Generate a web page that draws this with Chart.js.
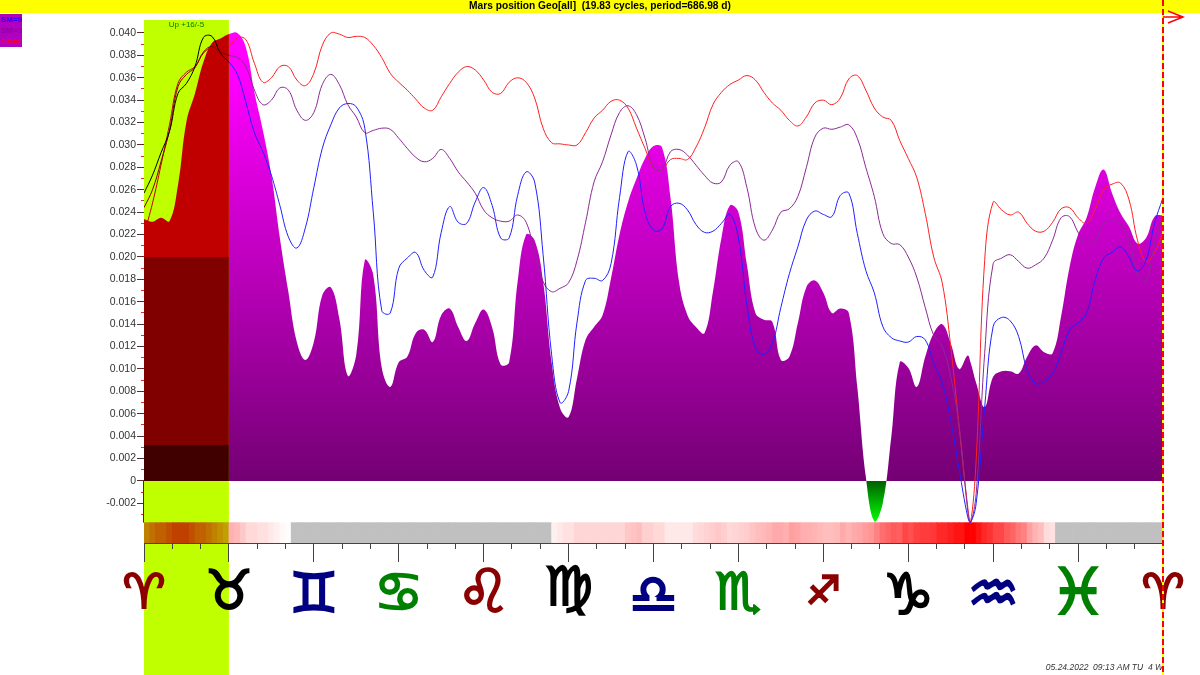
<!DOCTYPE html>
<html>
<head>
<meta charset="utf-8">
<title>Mars position Geo</title>
<script src="https://cdn.jsdelivr.net/npm/chart.js@4"></script>
<style>
  html, body { margin: 0; padding: 0; background: #fff; }
  canvas { display: block; }
</style>
</head>
<body>
<canvas id="myChart" width="1200" height="675"></canvas>
<script>
const TITLE = 'Mars position Geo[all]  (19.83 cycles, period=686.98 d)';
const FOOTER = '05.24.2022  09:13 AM TU  4 W';
const BAND_LABEL = 'Up +16/-5';
const BAND_RANGE = [0, 30];
const SM_LABELS = ['SM=9', 'SM=5', 'SM=2'];

const SIGNS = ['♈', '♉', '♊', '♋', '♌', '♍', '♎', '♏', '♐', '♑', '♒', '♓', '♈'];
const SIGN_COLORS = ['#8b0000', '#000000', '#000080', '#008000', '#8b0000', '#000000', '#000080', '#008000', '#8b0000', '#000000', '#000080', '#008000', '#8b0000'];
const SIGN_SIZES = [48, 54, 55, 55, 60, 54, 54, 51, 39, 57, 58, 64, 48];
// line height moves each glyph up or down under its tick
const SIGN_LINES = [58.4, 60, 54.8, 57.8, 58, 67.8, 52.8, 59, 63.6, 51.2, 54.2, 55.4, 58.4];
const SIGN_TICKS = [0, 30, 60, 90, 120, 150, 180, 210, 240, 270, 300, 330, 360];
const MINOR_X_TICKS = [10, 20, 40, 50, 70, 80, 100, 110, 130, 140, 160, 170, 190, 200, 220, 230, 250, 260, 280, 290, 310, 320, 340, 350];

const Y_MIN = -0.00554;
const Y_MAX = 0.04116;
const Y_TICKS = [-0.002, 0, 0.002, 0.004, 0.006, 0.008, 0.01, 0.012, 0.014, 0.016, 0.018, 0.02, 0.022, 0.024, 0.026, 0.028, 0.03, 0.032, 0.034, 0.036, 0.038, 0.04];
const MINOR_Y_TICKS = [-0.003, -0.001, 0.001, 0.003, 0.005, 0.007, 0.009, 0.011, 0.013, 0.015, 0.017, 0.019, 0.021, 0.023, 0.025, 0.027, 0.029, 0.031, 0.033, 0.035, 0.037, 0.039];

const DEGREES = [
  0, 3, 6, 9, 12, 15, 18, 21, 24, 27,
  30, 33, 36, 39, 42, 45, 48, 51, 54, 57,
  60, 63, 66, 69, 72, 75, 78, 81, 84, 87,
  90, 93, 96, 99, 102, 105, 108, 111, 114, 117,
  120, 123, 126, 129, 132, 135, 138, 141, 144, 147,
  150, 153, 156, 159, 162, 165, 168, 171, 174, 177,
  180, 183, 186, 189, 192, 195, 198, 201, 204, 207,
  210, 213, 216, 219, 222, 225, 228, 231, 234, 237,
  240, 243, 246, 249, 252, 255, 258, 261, 264, 267,
  270, 273, 276, 279, 282, 285, 288, 291, 292, 294,
  297, 300, 303, 306, 309, 312, 315, 318, 321, 324,
  327, 330, 333, 336, 339, 342, 345, 348, 351, 354, 357, 360
];

const AREA = [
  0.0234, 0.02315, 0.0235, 0.0232, 0.0264, 0.0321, 0.0346, 0.0374, 0.0391, 0.0395,
  0.0399, 0.04, 0.0387, 0.0347, 0.0313, 0.0273, 0.0217, 0.0169, 0.0124, 0.0108,
  0.0124, 0.0166, 0.0173, 0.0145, 0.0094, 0.0113, 0.0197, 0.0184, 0.0101, 0.0084,
  0.0106, 0.0111, 0.0132, 0.0135, 0.0124, 0.0148, 0.0154, 0.01375, 0.0125, 0.0141,
  0.0153, 0.0137, 0.0104, 0.0106, 0.0178, 0.022, 0.0215, 0.0178, 0.0106, 0.0065,
  0.0057, 0.0092, 0.0126, 0.01375, 0.0148, 0.0181, 0.022, 0.0249, 0.027, 0.0288,
  0.0299, 0.0298, 0.0253, 0.0178, 0.0148, 0.01375, 0.0132, 0.0169, 0.0217, 0.0246,
  0.024, 0.0193, 0.015, 0.0144, 0.0142, 0.0108, 0.0111, 0.0141, 0.0173, 0.0179,
  0.0168, 0.015, 0.0154, 0.015, 0.0084, 0.0004, -0.0036, -0.002, 0.0039, 0.0106,
  0.0101, 0.0084, 0.0111, 0.0132, 0.014, 0.0123, 0.01, 0.0112, 0.0106, 0.00875,
  0.0066, 0.0093, 0.0098, 0.0098, 0.0096, 0.0111, 0.0121, 0.0115, 0.0114, 0.0147,
  0.0191, 0.022, 0.0235, 0.0262, 0.0278, 0.0257, 0.0239, 0.0227, 0.0212, 0.0217, 0.0236, 0.02375
];

const SM9 = [
  0.0257, 0.0273, 0.0293, 0.0312, 0.0346, 0.0355, 0.037, 0.0396, 0.0397, 0.0382,
  0.0374, 0.0363, 0.0338, 0.0311, 0.0294, 0.0273, 0.0246, 0.0218, 0.0208, 0.0226,
  0.0262, 0.0297, 0.0318, 0.0333, 0.0337, 0.0334, 0.0315, 0.024, 0.0152, 0.015,
  0.019, 0.0199, 0.0204, 0.0188, 0.0182, 0.0222, 0.0245, 0.0231, 0.023, 0.0249,
  0.0262, 0.0246, 0.0217, 0.0217, 0.0255, 0.0276, 0.0267, 0.0202, 0.0113, 0.007,
  0.008, 0.0142, 0.0179, 0.0181, 0.0179, 0.0194, 0.0253, 0.0294, 0.0282, 0.024,
  0.0224, 0.0225, 0.0245, 0.0248, 0.0242, 0.0229, 0.0222, 0.0223, 0.023, 0.0238,
  0.0217, 0.0157, 0.0119, 0.0113, 0.0123, 0.0155, 0.0185, 0.0209, 0.0233, 0.0241,
  0.0238, 0.0236, 0.0255, 0.0257, 0.0221, 0.0188, 0.0168, 0.0138, 0.0128, 0.0125,
  0.0124, 0.0129, 0.0126, 0.0105, 0.00875, 0.0054, 0.001, -0.0032, -0.0037, -0.002,
  0.0066, 0.0138, 0.0146, 0.0143, 0.0129, 0.0099, 0.0087, 0.00885, 0.0096, 0.0114,
  0.0135, 0.0141, 0.015, 0.0179, 0.0199, 0.0204, 0.0209, 0.02, 0.01875, 0.0197, 0.023, 0.0253
];

const SM5 = [
  0.0244, 0.026, 0.0285, 0.0313, 0.0352, 0.0363, 0.0369, 0.0383, 0.0388, 0.0383,
  0.038, 0.0378, 0.037, 0.0349, 0.0336, 0.034, 0.0351, 0.0349, 0.0331, 0.0322,
  0.0329, 0.0354, 0.0363, 0.0354, 0.0336, 0.0325, 0.0311, 0.0313, 0.0315, 0.0314,
  0.0306, 0.0297, 0.0289, 0.0285, 0.0288, 0.0296, 0.0288, 0.0276, 0.0267, 0.0257,
  0.0242, 0.0235, 0.0232, 0.0232, 0.02375, 0.0231, 0.0204, 0.0178, 0.0169, 0.0172,
  0.0177, 0.0197, 0.0231, 0.0267, 0.0285, 0.0309, 0.0329, 0.0335, 0.0327, 0.0306,
  0.028, 0.0278, 0.0294, 0.0296, 0.0291, 0.0282, 0.0273, 0.0266, 0.0267, 0.0282,
  0.0285, 0.0262, 0.0226, 0.0215, 0.0224, 0.024, 0.0243, 0.0254, 0.028, 0.0307,
  0.0315, 0.0314, 0.0316, 0.0318, 0.0306, 0.028, 0.0254, 0.0221, 0.0212, 0.0211,
  0.02, 0.0182, 0.0155, 0.013, 0.012, 0.0093, 0.0048, -0.0026, -0.0037, -0.0011,
  0.0114, 0.0194, 0.0199, 0.0202, 0.0196, 0.019, 0.0193, 0.0199, 0.0215, 0.0235,
  0.0236, 0.0222, 0.0212, 0.0215, 0.023, 0.0232, 0.0229, 0.0215, 0.0184, 0.0178, 0.0212, 0.02375
];

const SM2 = [
  0.022, 0.0248, 0.0282, 0.0318, 0.0355, 0.0365, 0.037, 0.0382, 0.0387, 0.0385,
  0.0388, 0.0396, 0.0394, 0.0373, 0.0356, 0.036, 0.037, 0.037, 0.0358, 0.0353,
  0.0364, 0.0389, 0.04, 0.0399, 0.0396, 0.0397, 0.0396, 0.0389, 0.0378, 0.0364,
  0.0356, 0.0349, 0.0341, 0.0333, 0.0331, 0.0343, 0.0355, 0.0365, 0.037, 0.0367,
  0.0358, 0.0347, 0.0346, 0.0356, 0.036, 0.0356, 0.0342, 0.0315, 0.0302, 0.0301,
  0.03, 0.03, 0.0311, 0.0324, 0.0331, 0.0339, 0.034, 0.0333, 0.0315, 0.0297,
  0.028, 0.0278, 0.0287, 0.0288, 0.0287, 0.0298, 0.0315, 0.0336, 0.0347, 0.0354,
  0.0358, 0.0362, 0.0358, 0.0347, 0.03375, 0.0331, 0.0322, 0.0317, 0.0325, 0.03375,
  0.034, 0.0336, 0.0342, 0.0359, 0.0362, 0.0349, 0.0333, 0.0325, 0.0322, 0.0304,
  0.0288, 0.0271, 0.0239, 0.02, 0.0177, 0.012, 0.0048, -0.0023, -0.0037, 0.0019,
  0.0197, 0.0249, 0.0242, 0.02375, 0.024, 0.023, 0.0223, 0.0223, 0.0231, 0.0243,
  0.0244, 0.0235, 0.023, 0.0242, 0.026, 0.0265, 0.0266, 0.0251, 0.0215, 0.0196, 0.0204, 0.0222
];

// one cell per 2 degrees, green/blue level of the cell, null = grey
const STRIP_LEVELS = [
  128, 112, 96, 96, 80, 64, 64, 64, 80, 96, 96, 112, 128, 144, 160,
  176, 184, 200, 216, 216, 224, 224, 232, 240, 248, 252,
  null, null, null, null, null, null, null, null, null, null, null, null, null, null, null, null,
  null, null, null, null, null, null, null, null, null, null, null, null, null, null, null, null,
  null, null, null, null, null, null, null, null, null, null, null, null, null, null,
  240, 232, 225, 225, 214, 214, 214, 214, 214, 214, 214, 214, 214, 200, 195, 190, 208, 208, 216, 216,
  232, 232, 232, 232, 232, 220, 215, 210, 205, 200, 205, 216, 212, 208, 205, 196, 190, 185, 180, 170,
  170, 175, 160, 165, 175, 175, 180, 185, 190, 190, 185,
  170, 180, 170, 165, 155, 150, 130, 110, 100, 90, 95, 70, 80, 65, 60, 60, 55, 40, 40, 30, 20, 20, 0, 0,
  20, 40, 50, 70, 70, 90, 100, 120, 130, 160, 180, 190, 220, 225,
  null, null, null, null, null, null, null, null, null, null, null, null, null, null, null, null, null, null, null
];
const STRIP_RANGE = [-0.00554, -0.00372];

let areaGradient = null;
let bandGradient = null;

function stop(grad, scale, value, color) {
  const top = scale.getPixelForValue(Y_MAX);
  const bottom = scale.getPixelForValue(Y_MIN);
  const pos = (scale.getPixelForValue(value) - top) / (bottom - top);
  grad.addColorStop(Math.min(1, Math.max(0, pos)), color);
}

function areaFill(chart) {
  if (areaGradient) return areaGradient;
  const y = chart.scales.y;
  const g = chart.ctx.createLinearGradient(0, y.getPixelForValue(Y_MAX), 0, y.getPixelForValue(Y_MIN));
  stop(g, y, Y_MAX, '#ff00ff');
  stop(g, y, 0.0365, '#ff00ff');
  stop(g, y, 0, '#740074');
  stop(g, y, 0, '#006000');
  stop(g, y, -0.0037, '#00ff00');
  areaGradient = g;
  return g;
}

// same picture seen through the yellow-green band
function bandFill(chart) {
  if (bandGradient) return bandGradient;
  const y = chart.scales.y;
  const g = chart.ctx.createLinearGradient(0, y.getPixelForValue(Y_MAX), 0, y.getPixelForValue(Y_MIN));
  stop(g, y, 0.02, '#c00000');
  stop(g, y, 0.02, '#800000');
  stop(g, y, 0.0032, '#800000');
  stop(g, y, 0.0032, '#400000');
  bandGradient = g;
  return g;
}

function inBand(ctx) {
  return ctx.p0.parsed.x < BAND_RANGE[1];
}

function lineSet(label, values, color, bandColor) {
  return {
    type: 'line',
    label: label,
    data: DEGREES.map((d, i) => ({ x: d, y: values[i] })),
    borderColor: color,
    borderWidth: 1,
    pointRadius: 0,
    tension: 0.4,
    fill: false,
    order: 1,
    segment: {
      borderColor: ctx => inBand(ctx) ? bandColor : color
    }
  };
}

const pagePlugin = {
  id: 'page',
  beforeDraw(chart) {
    const c = chart.ctx;
    const x = chart.scales.x;
    c.save();
    c.fillStyle = '#ffff00';
    c.fillRect(0, 0, chart.width, 13);
    c.fillStyle = '#c0ff00';
    const x0 = x.getPixelForValue(BAND_RANGE[0]);
    const x1 = x.getPixelForValue(BAND_RANGE[1]);
    c.fillRect(x0, chart.chartArea.top, x1 - x0, chart.height - chart.chartArea.top);
    c.restore();
  },
  afterDraw(chart) {
    const c = chart.ctx;
    const x = chart.scales.x;
    const y = chart.scales.y;
    const end = x.getPixelForValue(360);
    c.save();

    // axis line only shows under the zero level
    c.strokeStyle = '#333333';
    c.lineWidth = 1;
    c.beginPath();
    c.moveTo(x.left - 0.5, y.getPixelForValue(0));
    c.lineTo(x.left - 0.5, y.getPixelForValue(STRIP_RANGE[1]));
    c.stroke();

    // small text
    c.textBaseline = 'middle';
    c.textAlign = 'center';
    c.fillStyle = '#008000';
    c.font = '8px "Liberation Sans"';
    c.fillText(BAND_LABEL, x.getPixelForValue(15), 25);

    c.textAlign = 'right';
    c.fillStyle = '#333333';
    c.font = 'italic 8.5px "Liberation Sans"';
    c.fillText(FOOTER, end, 668);

    // SM key, top left
    c.fillStyle = '#b000c0';
    c.fillRect(0, 14, 22, 33);
    c.textAlign = 'left';
    c.font = 'bold 8px "Liberation Sans"';
    ['#2000ff', '#9000a0', '#ff0020'].forEach((col, i) => {
      c.fillStyle = col;
      c.fillText(SM_LABELS[i], 1, 20 + i * 11);
    });

    // end marker
    c.strokeStyle = '#ffff00';
    c.lineWidth = 2;
    c.beginPath();
    c.moveTo(end, 0);
    c.lineTo(end, chart.height);
    c.stroke();
    c.strokeStyle = '#ff0000';
    c.setLineDash([6, 3]);
    c.beginPath();
    c.moveTo(end, 0);
    c.lineTo(end, chart.height);
    c.stroke();
    c.setLineDash([]);

    c.lineWidth = 1.5;
    c.beginPath();
    c.moveTo(end, 17);
    c.lineTo(end + 20, 17);
    c.moveTo(end + 5, 11);
    c.lineTo(end + 20, 17);
    c.lineTo(end + 5, 23);
    c.stroke();
    c.restore();
  }
};

new Chart(document.getElementById('myChart'), {
  data: {
    datasets: [
      {
        type: 'bar',
        label: 'strip',
        data: STRIP_LEVELS.map((v, i) => ({ x: i * 2 + 1, y: STRIP_RANGE })),
        backgroundColor: ctx => {
          const v = STRIP_LEVELS[ctx.dataIndex];
          if (v === null) return '#c0c0c0';
          if (ctx.dataIndex * 2 < BAND_RANGE[1]) return 'rgb(192,' + v + ',0)';
          return 'rgb(255,' + v + ',' + v + ')';
        },
        barPercentage: 1,
        categoryPercentage: 1,
        borderWidth: 0,
        order: 3
      },
      {
        type: 'line',
        label: 'area',
        data: DEGREES.map((d, i) => ({ x: d, y: AREA[i] })),
        borderWidth: 0,
        pointRadius: 0,
        tension: 0.4,
        fill: 'origin',
        order: 2,
        segment: {
          backgroundColor: ctx => inBand(ctx) ? bandFill(ctx.chart) : areaFill(ctx.chart)
        }
      },
      lineSet(SM_LABELS[0], SM9, '#2020ff', '#000000'),
      lineSet(SM_LABELS[1], SM5, '#8a2a94', '#800000'),
      lineSet(SM_LABELS[2], SM2, '#ff2020', '#c00000')
    ]
  },
  plugins: [pagePlugin],
  options: {
    responsive: false,
    animation: false,
    layout: { padding: 0 },
    plugins: {
      legend: { display: false },
      tooltip: { enabled: false },
      title: {
        display: true,
        text: TITLE,
        color: '#000000',
        font: { family: '"Liberation Sans"', size: 10.2, weight: 'bold', lineHeight: 13 / 10.2 },
        padding: { top: 0, bottom: 7 }
      }
    },
    scales: {
      x: {
        type: 'linear',
        position: 'bottom',
        weight: 1,
        min: 0,
        max: 360,
        offset: false,
        afterBuildTicks: scale => { scale.ticks = SIGN_TICKS.map(v => ({ value: v })); },
        afterFit: scale => { scale.height = 132; scale.paddingLeft = 0; scale.paddingRight = 0; },
        grid: { offset: false, drawOnChartArea: false, tickLength: 19, tickColor: '#444444', tickWidth: 1 },
        border: { display: true, color: '#444444', width: 1 },
        ticks: {
          autoSkip: false,
          maxRotation: 0,
          minRotation: 0,
          padding: 29.3,
          crossAlign: 'center',
          callback: (v, i) => SIGNS[i],
          color: ctx => SIGN_COLORS[ctx.index],
          textStrokeColor: ctx => SIGN_COLORS[ctx.index],
          textStrokeWidth: 2,
          font: ctx => ({
            family: '"DejaVu Sans"',
            size: SIGN_SIZES[ctx.index],
            weight: 'bold',
            lineHeight: SIGN_LINES[ctx.index] + 'px'
          })
        }
      },
      x2: {
        type: 'linear',
        position: 'bottom',
        weight: 0,
        min: 0,
        max: 360,
        afterBuildTicks: scale => { scale.ticks = MINOR_X_TICKS.map(v => ({ value: v })); },
        afterFit: scale => { scale.height = 0; scale.paddingLeft = 0; scale.paddingRight = 0; },
        grid: { drawOnChartArea: false, tickLength: 6, tickColor: '#444444', tickWidth: 1 },
        border: { display: false },
        ticks: { display: false }
      },
      y: {
        type: 'linear',
        position: 'left',
        weight: 1,
        min: Y_MIN,
        max: Y_MAX,
        afterBuildTicks: scale => { scale.ticks = Y_TICKS.map(v => ({ value: v })); },
        afterFit: scale => { scale.width = 144; },
        grid: { drawOnChartArea: false, tickLength: 7, tickColor: '#503030', tickWidth: 1 },
        border: { display: false },
        ticks: {
          padding: 1,
          autoSkip: false,
          color: '#333333',
          font: { family: '"Liberation Sans"', size: 10.5 },
          callback: v => v === 0 ? '0' : v.toFixed(3)
        }
      },
      y2: {
        type: 'linear',
        position: 'left',
        weight: 0,
        min: Y_MIN,
        max: Y_MAX,
        afterBuildTicks: scale => { scale.ticks = MINOR_Y_TICKS.map(v => ({ value: v })); },
        afterFit: scale => { scale.width = 0; },
        grid: { drawOnChartArea: false, tickLength: 3, tickColor: '#e03030', tickWidth: 1 },
        border: { display: false },
        ticks: { display: false }
      },
      // empty right gutter
      yRight: {
        type: 'linear',
        position: 'right',
        min: Y_MIN,
        max: Y_MAX,
        afterFit: scale => { scale.width = 37; },
        grid: { display: false },
        border: { display: false },
        ticks: { display: false }
      }
    }
  }
});
</script>
</body>
</html>
